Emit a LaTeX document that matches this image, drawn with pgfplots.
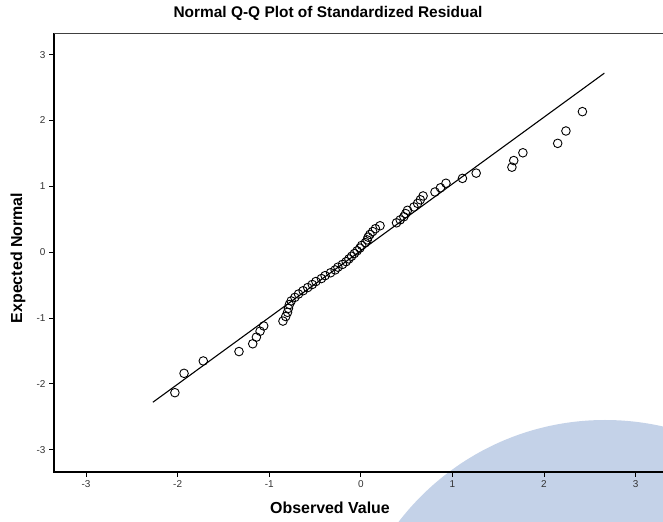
\documentclass[border=0pt]{standalone}
\usepackage{fontspec}
\setmainfont{Liberation Sans}
\usepackage{pgfplots}
\pgfplotsset{compat=1.18}
\definecolor{wmblue}{RGB}{196,210,232}
\begin{document}
\begin{tikzpicture}[x=1bp,y=1bp]
\fill[wmblue] (551,-208) circle (260);
\begin{axis}[name=ax, at={(0,0)}, anchor=south west,
  scale only axis, width=609bp, height=439bp,
  xmin=-3.35, xmax=3.30, ymin=-3.34, ymax=3.33,
  axis line style={draw=none},
  xtick={-3,-2,-1,0,1,2,3}, ytick={-3,-2,-1,0,1,2,3},
  xticklabels={-3,-2,-1,0,1,2,3}, yticklabels={-3,-2,-1,0,1,2,3},
  tick align=outside, xtick pos=left, ytick pos=left,
  major tick length=5bp,
  tick style={black, line width=0.9bp},
  ticklabel style={font=\fontsize{10}{12}\selectfont, text=black!80},
  clip=false,
]
\addplot[black, line width=1.1bp] coordinates {(-2.27,-2.28) (2.66,2.72)};
\addplot[only marks, mark=o, mark size=4.3bp, mark options={line width=0.9bp, black}] table[row sep=\\] {
x y \\
-2.03 -2.135 \\
-1.93 -1.841 \\
-1.72 -1.653 \\
-1.33 -1.510 \\
-1.18 -1.392 \\
-1.14 -1.291 \\
-1.10 -1.201 \\
-1.06 -1.121 \\
-0.85 -1.047 \\
-0.82 -0.978 \\
-0.80 -0.914 \\
-0.79 -0.854 \\
-0.78 -0.796 \\
-0.76 -0.741 \\
-0.72 -0.687 \\
-0.68 -0.636 \\
-0.63 -0.586 \\
-0.58 -0.538 \\
-0.53 -0.491 \\
-0.49 -0.446 \\
-0.43 -0.401 \\
-0.39 -0.357 \\
-0.33 -0.313 \\
-0.28 -0.270 \\
-0.25 -0.228 \\
-0.20 -0.186 \\
-0.16 -0.144 \\
-0.13 -0.103 \\
-0.10 -0.062 \\
-0.07 -0.021 \\
-0.04 0.021 \\
-0.01 0.062 \\
0.01 0.103 \\
0.05 0.144 \\
0.07 0.186 \\
0.08 0.228 \\
0.10 0.270 \\
0.13 0.313 \\
0.16 0.357 \\
0.21 0.401 \\
0.39 0.446 \\
0.43 0.491 \\
0.47 0.538 \\
0.49 0.586 \\
0.51 0.636 \\
0.58 0.687 \\
0.62 0.741 \\
0.65 0.796 \\
0.68 0.854 \\
0.81 0.914 \\
0.87 0.978 \\
0.93 1.047 \\
1.11 1.121 \\
1.26 1.201 \\
1.65 1.291 \\
1.67 1.392 \\
1.77 1.510 \\
2.15 1.653 \\
2.24 1.841 \\
2.42 2.135 \\
};
\draw[line width=1.1bp] (rel axis cs:0,1) -- (rel axis cs:0,0) -- (rel axis cs:1,0);
\draw[line width=0.8bp, black!75] (rel axis cs:0,1) -- (rel axis cs:1,1);
\end{axis}
\node[font=\bfseries\fontsize{15.5}{19}\selectfont] at (274,459) {Normal Q-Q Plot of Standardized Residual};
\node[font=\bfseries\fontsize{16}{19}\selectfont] at (276,-36) {Observed Value};
\node[font=\bfseries\fontsize{16}{19}\selectfont, rotate=90] at (-36,214) {Expected Normal};
\pgfresetboundingbox
\path[use as bounding box] (-54,-50) rectangle (609,472);
\end{tikzpicture}
\end{document}
